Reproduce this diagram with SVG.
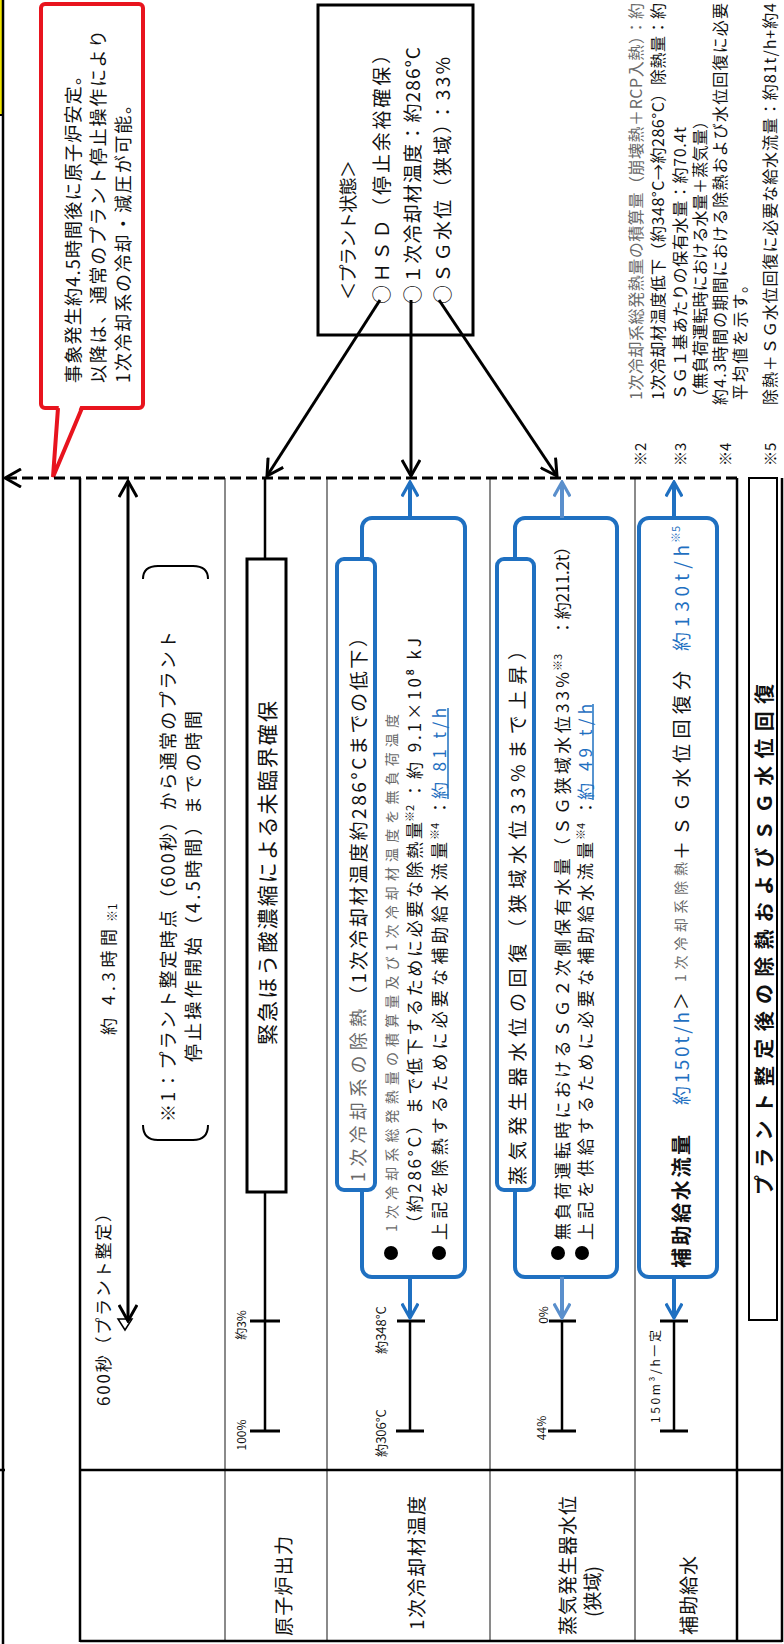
<svg xmlns="http://www.w3.org/2000/svg" width="784" height="1644" viewBox="0 0 784 1644">
<defs>
<style>
text{font-family:"Noto Sans CJK JP","Noto Sans",sans-serif;dominant-baseline:central;fill:#111}
.s21{font-size:21px}
.s20{font-size:20px}
.s19{font-size:19px}
.s18{font-size:18px}
.s17{font-size:17px}
.s16{font-size:16px}
.s15{font-size:15px}
.s14{font-size:14px}
.s13{font-size:13px}
.s12{font-size:12px}
.s11{font-size:11px}
.thin{fill:#6a6a6a}
.blu{fill:#1f70c1}
.gl{stroke:#8a8a8a;stroke-width:2;fill:none}
.bk{stroke:#000;stroke-width:2.5;fill:none}
.bbox{fill:#fff;stroke:#1f70c1;stroke-width:4}
.tick{stroke:#000;stroke-width:3}
.ul{stroke:#1f70c1;stroke-width:1.5}
</style>
<marker id="ak" viewBox="0 0 20 20" refX="18" refY="10" markerWidth="20" markerHeight="20" markerUnits="userSpaceOnUse" orient="auto-start-reverse"><path d="M2,1 L18,10 L2,19" fill="none" stroke="#000" stroke-width="3"/></marker>
<marker id="ab" viewBox="0 0 20 20" refX="18" refY="10" markerWidth="18" markerHeight="18" markerUnits="userSpaceOnUse" orient="auto"><path d="M2,1 L18,10 L2,19" fill="none" stroke="#1f70c1" stroke-width="3.5"/></marker>
<marker id="al" viewBox="0 0 20 20" refX="18" refY="10" markerWidth="18" markerHeight="18" markerUnits="userSpaceOnUse" orient="auto"><path d="M2,1 L18,10 L2,19" fill="none" stroke="#5a8fcc" stroke-width="3.5"/></marker>
</defs>
<rect width="784" height="1644" fill="#fff"/>

<g id="page-edge">
<rect x="-3" y="-3" width="6" height="118" fill="#f2e600" stroke="#000" stroke-width="2"/>
<line x1="3" y1="0" x2="3" y2="1644" class="bk"/>
<line x1="0" y1="1470" x2="5" y2="1470" class="bk"/>
</g>

<g id="callout">
<rect x="41" y="4" width="102" height="404" rx="4" fill="#fff" stroke="#e8141e" stroke-width="4"/>
<polygon points="59,404 81,404 53,476" fill="#fff"/>
<polyline points="58,408 53,477 82,408" fill="none" stroke="#e8141e" stroke-width="4" stroke-linejoin="miter"/>
<text class="s18" transform="translate(72,383) rotate(-90)" textLength="316" lengthAdjust="spacing">事象発生約4.5時間後に原子炉安定。</text>
<text class="s18" transform="translate(97,383) rotate(-90)" textLength="353" lengthAdjust="spacing">以降は、通常のプラント停止操作により</text>
<text class="s18" transform="translate(122,383) rotate(-90)" textLength="287" lengthAdjust="spacing">1次冷却系の冷却・減圧が可能。</text>
</g>

<g id="plant-state">
<rect x="318" y="5" width="155" height="330" fill="#fff" stroke="#000" stroke-width="3"/>
<text class="s18" transform="translate(347,300) rotate(-90)" textLength="140" lengthAdjust="spacing">＜プラント状態＞</text>
<text class="s19" transform="translate(380,304) rotate(-90)" textLength="259" lengthAdjust="spacing">○ＨＳＤ（停止余裕確保）</text>
<text class="s19" transform="translate(411,304) rotate(-90)" textLength="257" lengthAdjust="spacing">○１次冷却材温度：約286°C</text>
<text class="s19" transform="translate(441,304) rotate(-90)" textLength="247" lengthAdjust="spacing">○ＳＧ水位（狭域）：33%</text>
</g>

<g id="footnotes">
<text class="s15" transform="translate(639,466) rotate(-90)">※2</text>
<text class="s16 thin" transform="translate(635,400) rotate(-90)" textLength="397" lengthAdjust="spacing">1次冷却系総発熱量の積算量（崩壊熱＋RCP入熱）：約</text>
<text class="s16" transform="translate(657,400) rotate(-90)" textLength="397" lengthAdjust="spacing">1次冷却材温度低下（約348°C→約286°C）除熱量：約</text>
<text class="s15" transform="translate(679,466) rotate(-90)">※3</text>
<text class="s16" transform="translate(679,400) rotate(-90)" textLength="273" lengthAdjust="spacing">ＳＧ１基あたりの保有水量：約70.4t</text>
<text class="s16" transform="translate(699,405) rotate(-90)" textLength="292" lengthAdjust="spacing">（無負荷運転時における水量＋蒸気量）</text>
<text class="s15" transform="translate(724,466) rotate(-90)">※4</text>
<text class="s16" transform="translate(719,405) rotate(-90)" textLength="402" lengthAdjust="spacing">約4.3時間の期間における除熱および水位回復に必要</text>
<text class="s16" transform="translate(739,400) rotate(-90)" textLength="123" lengthAdjust="spacing">平均値を示す。</text>
<text class="s15" transform="translate(769,466) rotate(-90)">※5</text>
<text class="s16" transform="translate(769,405) rotate(-90)" textLength="402" lengthAdjust="spacing">除熱＋ＳＧ水位回復に必要な給水流量：約81t/h+約4</text>
</g>

<g id="table">
<line x1="80" y1="478" x2="80" y2="1642" class="bk"/>
<line x1="225" y1="478" x2="225" y2="1642" class="gl"/>
<line x1="327" y1="478" x2="327" y2="1642" class="gl"/>
<line x1="490" y1="478" x2="490" y2="1642" class="gl"/>
<line x1="635" y1="478" x2="635" y2="1642" class="gl"/>
<line x1="737" y1="478" x2="737" y2="1642" class="bk"/>
<line x1="782" y1="478" x2="782" y2="1642" class="bk"/>
<line x1="80" y1="1470" x2="782" y2="1470" class="bk"/>
<line x1="80" y1="1641" x2="782" y2="1641" class="bk"/>
<text class="s19" transform="translate(282,1636) rotate(-90)" textLength="100" lengthAdjust="spacing">原子炉出力</text>
<text class="s19" transform="translate(415,1630) rotate(-90)" textLength="134" lengthAdjust="spacing">1次冷却材温度</text>
<text class="s19" transform="translate(566,1635) rotate(-90)" textLength="139" lengthAdjust="spacing">蒸気発生器水位</text>
<text class="s19" transform="translate(591,1617) rotate(-90)">(狭域)</text>
<text class="s19" transform="translate(687,1635) rotate(-90)" textLength="79" lengthAdjust="spacing">補助給水</text>
</g>

<g id="timeline">
<line x1="128" y1="1321" x2="128" y2="481" stroke="#000" stroke-width="3" marker-start="url(#ak)" marker-end="url(#ak)"/>
<polygon points="118,1319 132,1319 125,1330" fill="none" stroke="#000" stroke-width="1.5"/>
<text class="s17" transform="translate(102,1406) rotate(-90)" textLength="201" lengthAdjust="spacing">600秒（プラント整定）</text>
<text class="s17" transform="translate(107,1035) rotate(-90)" textLength="106" lengthAdjust="spacing">約 4.3時間</text>
<text class="s12" transform="translate(111,922) rotate(-90)">※1</text>
<path d="M143,1125 Q143,1140 158,1140 L193,1140 Q208,1140 208,1125" fill="none" stroke="#000" stroke-width="2"/>
<path d="M143,579 Q143,566 158,566 L193,566 Q208,566 208,579" fill="none" stroke="#000" stroke-width="2"/>
<text class="s18" transform="translate(167,1122) rotate(-90)" textLength="491" lengthAdjust="spacing">※1：プラント整定時点（600秒）から通常のプラント</text>
<text class="s18" transform="translate(192,1062) rotate(-90)" textLength="351" lengthAdjust="spacing">停止操作開始（4.5時間）までの時間</text>
</g>

<g id="row-reactor">
<line x1="265" y1="478" x2="265" y2="1431" stroke="#000" stroke-width="2.5"/>
<rect x="247" y="559" width="39" height="633" fill="#fff" stroke="#000" stroke-width="3"/>
<text class="s21" transform="translate(266,1045) rotate(-90)" textLength="344" lengthAdjust="spacing">緊急ほう酸濃縮による未臨界確保</text>
<line x1="250" y1="1321" x2="280" y2="1321" class="tick"/>
<line x1="250" y1="1431" x2="280" y2="1431" class="tick"/>
<text class="s12" text-anchor="middle" transform="translate(240,1325) rotate(-90)">約3%</text>
<text class="s12" text-anchor="middle" transform="translate(240,1435) rotate(-90)">100%</text>
</g>

<g id="row-temp">
<rect x="362" y="518" width="103" height="759" rx="10" class="bbox"/>
<rect x="337" y="559" width="38" height="631" rx="7" class="bbox"/>
<text class="s18 thin" transform="translate(357,1182) rotate(-90)" textLength="173" lengthAdjust="spacing">1次冷却系の除熱</text>
<text class="s19" transform="translate(357,1005) rotate(-90)" textLength="377" lengthAdjust="spacing">（1次冷却材温度約286°Cまでの低下）</text>
<circle cx="391" cy="1253" r="7" fill="#000"/>
<text class="s14 thin" transform="translate(391,1232) rotate(-90)" textLength="518" lengthAdjust="spacing">1次冷却系総発熱量の積算量及び1次冷却材温度を無負荷温度</text>
<text class="s17" transform="translate(413,1232) rotate(-90)" textLength="410" lengthAdjust="spacing">（約286°C）まで低下するために必要な除熱量</text>
<text class="s11" transform="translate(409,822) rotate(-90)">※2</text>
<text class="s17" transform="translate(413,799) rotate(-90)" textLength="161" lengthAdjust="spacing">：約 9.1×10⁸ kJ</text>
<circle cx="439" cy="1253" r="7" fill="#000"/>
<text class="s17" transform="translate(438,1240) rotate(-90)" textLength="398" lengthAdjust="spacing">上記を除熱するために必要な補助給水流量</text>
<text class="s11" transform="translate(434,840) rotate(-90)">※4</text>
<text class="s17" transform="translate(438,816) rotate(-90)">：</text>
<text class="s17 blu" transform="translate(438,799) rotate(-90)" textLength="91" lengthAdjust="spacing">約 81 t/h</text>
<line x1="448" y1="708" x2="448" y2="799" class="ul"/>
<line x1="410" y1="1321" x2="410" y2="1431" stroke="#000" stroke-width="2.5"/>
<line x1="397" y1="1321" x2="425" y2="1321" class="tick"/>
<line x1="396" y1="1431" x2="424" y2="1431" class="tick"/>
<text class="s13" text-anchor="middle" transform="translate(380,1330) rotate(-90)">約348°C</text>
<text class="s13" text-anchor="middle" transform="translate(380,1433) rotate(-90)">約306°C</text>
</g>

<g id="row-sg">
<rect x="515" y="518" width="102" height="759" rx="10" class="bbox"/>
<rect x="497" y="559" width="37" height="631" rx="7" class="bbox"/>
<text class="s19" transform="translate(516,1185) rotate(-90)" textLength="544" lengthAdjust="spacing">蒸気発生器水位の回復（狭域水位33%まで上昇）</text>
<circle cx="558" cy="1253" r="7" fill="#000"/>
<text class="s17" transform="translate(561,1240) rotate(-90)" textLength="568" lengthAdjust="spacing">無負荷運転時におけるＳＧ２次側保有水量（ＳＧ狭域水位33%</text>
<text class="s11" transform="translate(557,671) rotate(-90)">※3</text>
<text class="s17" transform="translate(561,636) rotate(-90)" textLength="98" lengthAdjust="spacing">：約211.2t）</text>
<circle cx="582" cy="1253" r="7" fill="#000"/>
<text class="s17" transform="translate(584,1240) rotate(-90)" textLength="398" lengthAdjust="spacing">上記を供給するために必要な補助給水流量</text>
<text class="s11" transform="translate(580,840) rotate(-90)">※4</text>
<text class="s17" transform="translate(584,816) rotate(-90)">：</text>
<text class="s17 blu" transform="translate(584,800) rotate(-90)" textLength="96" lengthAdjust="spacing">約 49 t/h</text>
<line x1="593" y1="704" x2="593" y2="800" class="ul"/>
<line x1="562" y1="1321" x2="562" y2="1431" stroke="#000" stroke-width="2.5"/>
<line x1="549" y1="1321" x2="576" y2="1321" class="tick"/>
<line x1="548" y1="1431" x2="576" y2="1431" class="tick"/>
<text class="s12" text-anchor="middle" transform="translate(542,1315) rotate(-90)">0%</text>
<text class="s12" text-anchor="middle" transform="translate(540,1428) rotate(-90)">44%</text>
</g>

<g id="row-afw">
<rect x="639" y="518" width="78" height="759" rx="10" class="bbox"/>
<text class="s20" font-weight="bold" transform="translate(680,1268) rotate(-90)" textLength="133" lengthAdjust="spacing">補助給水流量</text>
<text class="s19 blu" transform="translate(680,1105) rotate(-90)" textLength="93" lengthAdjust="spacing">約150t/h</text>
<text class="s18" transform="translate(680,1010) rotate(-90)">＞</text>
<text class="s14 thin" transform="translate(680,982) rotate(-90)" textLength="120" lengthAdjust="spacing">1次冷却系除熱</text>
<text class="s19" transform="translate(680,860) rotate(-90)" textLength="189" lengthAdjust="spacing">＋ＳＧ水位回復分</text>
<text class="s19 blu" transform="translate(680,651) rotate(-90)" textLength="106" lengthAdjust="spacing">約130t/h</text>
<text class="s11 blu" transform="translate(675,543) rotate(-90)">※5</text>
<line x1="674" y1="1321" x2="674" y2="1431" stroke="#000" stroke-width="2.5"/>
<line x1="660" y1="1321" x2="688" y2="1321" class="tick"/>
<line x1="660" y1="1431" x2="688" y2="1431" class="tick"/>
<text class="s12" transform="translate(654,1423) rotate(-90)" textLength="93" lengthAdjust="spacing">150m³/h一定</text>
</g>

<g id="row-summary">
<rect x="749" y="478" width="28" height="842" fill="none" stroke="#000" stroke-width="2"/>
<text class="s20" font-weight="bold" transform="translate(763,1195) rotate(-90)" textLength="511" lengthAdjust="spacing">プラント整定後の除熱およびＳＧ水位回復</text>
</g>

<g id="connectors">
<line x1="737" y1="478" x2="5" y2="478" stroke="#000" stroke-width="3" stroke-dasharray="11,5" marker-end="url(#ak)"/>
<line x1="380" y1="300" x2="267" y2="476" stroke="#000" stroke-width="3" marker-end="url(#ak)"/>
<line x1="411" y1="300" x2="411" y2="476" stroke="#000" stroke-width="3" marker-end="url(#ak)"/>
<line x1="439" y1="300" x2="557" y2="476" stroke="#000" stroke-width="3" marker-end="url(#ak)"/>
<line x1="410" y1="518" x2="410" y2="482" stroke="#1f70c1" stroke-width="4" marker-end="url(#ab)"/>
<line x1="410" y1="1277" x2="410" y2="1318" stroke="#1f70c1" stroke-width="4" marker-end="url(#ab)"/>
<line x1="562" y1="518" x2="562" y2="482" stroke="#5a8fcc" stroke-width="4" marker-end="url(#al)"/>
<line x1="562" y1="1277" x2="562" y2="1318" stroke="#5a8fcc" stroke-width="4" marker-end="url(#al)"/>
<line x1="674" y1="518" x2="674" y2="482" stroke="#1f70c1" stroke-width="4" marker-end="url(#ab)"/>
<line x1="674" y1="1277" x2="674" y2="1318" stroke="#1f70c1" stroke-width="4" marker-end="url(#ab)"/>
</g>
</svg>
